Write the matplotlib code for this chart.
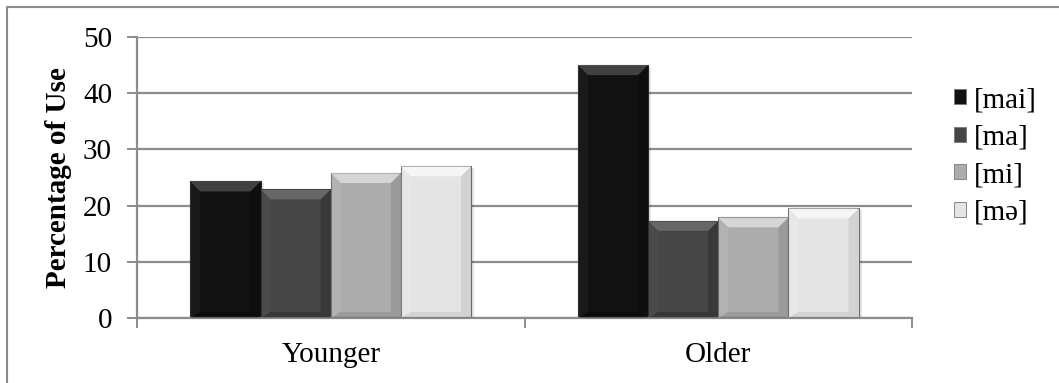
import matplotlib
matplotlib.use("Agg")
import matplotlib.pyplot as plt
from matplotlib.patches import Polygon, Rectangle
from matplotlib.lines import Line2D

# Data
groups = ["Younger", "Older"]
series = ["[mai]", "[ma]", "[mi]", "[mə]"]
mai = [24.3, 45.0]
ma = [22.9, 17.3]
mi = [25.8, 17.9]
me = [27.0, 19.5]
values = [mai, ma, mi, me]
colors = ["#121212", "#464646", "#acacac", "#e4e4e4"]
yticks = [0, 10, 20, 30, 40, 50]

plt.rcParams["font.family"] = ["Liberation Serif", "DejaVu Serif"]

W, H, DPI = 1059, 383, 100
fig = plt.figure(figsize=(W / DPI, H / DPI), dpi=DPI)
fig.patch.set_facecolor("white")

# plot area in pixels
x0, x1, ytop, ybot = 137, 912, 37, 318
ax = fig.add_axes([x0 / W, (H - ybot) / H, (x1 - x0) / W, (ybot - ytop) / H])
ax.set_xlim(-0.5, 1.5)
ax.set_ylim(0, 50)

FS = 21
grid_c = "#8c8c8c"
for s in ["top", "right"]:
    ax.spines[s].set_visible(False)
for s in ["left", "bottom"]:
    ax.spines[s].set_color(grid_c)
    ax.spines[s].set_linewidth(1.6)

ax.set_yticks(yticks)
ax.set_yticklabels([str(t) for t in yticks])
ax.tick_params(axis="y", direction="out", length=7, width=1.4, color=grid_c,
               labelsize=FS, pad=11)
ax.yaxis.grid(True, color=grid_c, linewidth=1.6)
ax.set_axisbelow(True)

ax.set_xticks(range(len(groups)))
ax.set_xticklabels(groups)
ax.set_xticks([-0.5, 0.5, 1.5], minor=True)
ax.tick_params(axis="x", which="major", length=0, labelsize=FS, pad=17)
ax.tick_params(axis="x", which="minor", direction="out", length=7, width=1.4,
               color=grid_c)

ax.set_ylabel("Percentage of Use", fontsize=FS, fontweight="bold", labelpad=8)

# pixel -> data scale factors
px_x = 2.0 / (x1 - x0)
px_y = 50.0 / (ybot - ytop)

bw = 0.181
n = len(series)


def bevel(ax, x, w, h, bx, by, top_a, side_l, side_r, bot_a):
    """Draw an angled bevel on a rectangular bar."""
    xl, xr = x, x + w
    bb = by * 0.6
    pts_top = [(xl, h), (xr, h), (xr - bx, h - by), (xl + bx, h - by)]
    pts_bot = [(xl, 0), (xr, 0), (xr - bx, bb), (xl + bx, bb)]
    pts_left = [(xl, 0), (xl, h), (xl + bx, h - by), (xl + bx, bb)]
    pts_right = [(xr, 0), (xr, h), (xr - bx, h - by), (xr - bx, bb)]
    ax.add_patch(Polygon(pts_left, closed=True, facecolor="white", alpha=side_l,
                         linewidth=0, zorder=3))
    ax.add_patch(Polygon(pts_right, closed=True, facecolor="black", alpha=side_r,
                         linewidth=0, zorder=3))
    ax.add_patch(Polygon(pts_bot, closed=True, facecolor="black", alpha=bot_a,
                         linewidth=0, zorder=3))
    ax.add_patch(Polygon(pts_top, closed=True, facecolor="white", alpha=top_a,
                         linewidth=0, zorder=3))


bevel_style = [
    (0.20, 0.03, 0.20, 0.30),
    (0.18, 0.03, 0.18, 0.22),
    (0.50, 0.08, 0.10, 0.10),
    (0.65, 0.12, 0.08, 0.07),
]

for i, (vals, col) in enumerate(zip(values, colors)):
    offs = (i - (n - 1) / 2) * bw
    xs = [g + offs for g in range(len(groups))]
    bars = ax.bar(xs, vals, width=bw, color=col,
                  edgecolor="#6a6a6a" if i >= 2 else "#2a2a2a",
                  linewidth=0.8, zorder=2, label=series[i])
    for b in bars:
        # soft drop shadow on the right
        ax.add_patch(Rectangle((b.get_x() + b.get_width(), 0), 3 * px_x,
                               b.get_height() - 2 * px_y,
                               facecolor="#000000", alpha=0.10, linewidth=0, zorder=1.5))
        bevel(ax, b.get_x(), b.get_width(), b.get_height(), 10 * px_x, 10 * px_y,
              *bevel_style[i])

# legend
handles = [Rectangle((0, 0), 1, 1, facecolor=c, edgecolor="#777777", linewidth=0.6)
           for c in colors]
leg = fig.legend(handles, series, loc="upper left", bbox_to_anchor=(954 / W, 1 - 87 / H),
                 frameon=False, fontsize=FS, handlelength=0.42, handleheight=0.42,
                 handletextpad=0.25, labelspacing=0.4, borderpad=0, borderaxespad=0)

# outer chart frame (left and top edges)
fig.add_artist(Line2D([7 / W, 7 / W, 1.0], [0.0, 1 - 7 / H, 1 - 7 / H],
                      transform=fig.transFigure, color="#8a8a8a", linewidth=1.5))

fig.savefig("out.png", dpi=DPI)
